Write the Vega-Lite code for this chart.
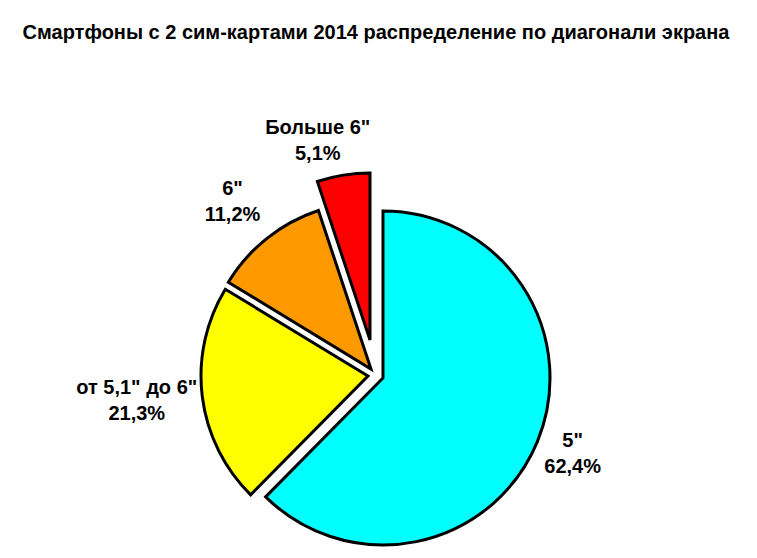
{
  "$schema": "https://vega.github.io/schema/vega-lite/v6.json",
  "width": 752,
  "height": 366,
  "autosize": {"type": "none"},
  "padding": {"left": 0, "top": 192, "right": 5, "bottom": 0},
  "background": "white",
  "title": {
    "text": "Смартфоны с 2 сим-картами 2014 распределение по диагонали экрана",
    "font": "Liberation Sans",
    "fontSize": 20,
    "fontWeight": "bold",
    "color": "black",
    "anchor": "middle",
    "offset": 75
  },
  "config": {
    "view": {"stroke": null},
    "locale": {"number": {"decimal": ",", "thousands": " ", "grouping": [3], "currency": ["", ""]}}
  },
  "data": {
    "values": [
      {"cat": "5\"", "share": 0.624},
      {"cat": "от 5,1\" до 6\"", "share": 0.213},
      {"cat": "6\"", "share": 0.112},
      {"cat": "Больше 6\"", "share": 0.051}
    ]
  },
  "encoding": {
    "theta": {"field": "share", "type": "quantitative", "stack": true},
    "order": {"field": "share", "type": "quantitative", "sort": "descending"},
    "color": {
      "field": "cat",
      "type": "nominal",
      "scale": {"domain": ["5\"", "от 5,1\" до 6\"", "6\"", "Больше 6\""], "range": ["#00FFFF", "#FFFF00", "#FF9900", "#FF0000"]},
      "legend": null
    }
  },
  "layer": [
    {"mark": {"type": "arc", "outerRadius": 167, "stroke": "black", "strokeWidth": 3, "xOffset": 7, "yOffset": 3},
     "encoding": {"opacity": {"condition": {"test": "datum.cat === '5\"'", "value": 1}, "value": 0}}},
    {"mark": {"type": "arc", "outerRadius": 167, "stroke": "black", "strokeWidth": 3, "xOffset": -8, "yOffset": 1},
     "encoding": {"opacity": {"condition": {"test": "datum.cat === 'от 5,1\" до 6\"'", "value": 1}, "value": 0}}},
    {"mark": {"type": "arc", "outerRadius": 167, "stroke": "black", "strokeWidth": 3, "xOffset": -5, "yOffset": -6},
     "encoding": {"opacity": {"condition": {"test": "datum.cat === '6\"'", "value": 1}, "value": 0}}},
    {"mark": {"type": "arc", "outerRadius": 167, "stroke": "black", "strokeWidth": 3, "xOffset": -6, "yOffset": -35},
     "encoding": {"opacity": {"condition": {"test": "datum.cat === 'Больше 6\"'", "value": 1}, "value": 0}}},

    {"mark": {"type": "text", "radius": 205, "xOffset": 7, "yOffset": 1, "dy": -13, "font": "Liberation Sans", "fontSize": 20, "fontWeight": "bold", "baseline": "middle", "align": "center"},
     "encoding": {"color": {"value": "black"}, "text": {"condition": {"test": "datum.cat === '5\"'", "field": "cat", "type": "nominal"}, "value": ""}}},
    {"mark": {"type": "text", "radius": 205, "xOffset": 7, "yOffset": 1, "dy": 13, "font": "Liberation Sans", "fontSize": 20, "fontWeight": "bold", "baseline": "middle", "align": "center"},
     "encoding": {"color": {"value": "black"}, "text": {"condition": {"test": "datum.cat === '5\"'", "field": "share", "type": "quantitative", "format": ".1%"}, "value": ""}}},

    {"mark": {"type": "text", "radius": 233, "xOffset": -8, "yOffset": -2, "dy": -13, "font": "Liberation Sans", "fontSize": 20, "fontWeight": "bold", "baseline": "middle", "align": "center"},
     "encoding": {"color": {"value": "black"}, "text": {"condition": {"test": "datum.cat === 'от 5,1\" до 6\"'", "field": "cat", "type": "nominal"}, "value": ""}}},
    {"mark": {"type": "text", "radius": 233, "xOffset": -8, "yOffset": -2, "dy": 13, "font": "Liberation Sans", "fontSize": 20, "fontWeight": "bold", "baseline": "middle", "align": "center"},
     "encoding": {"color": {"value": "black"}, "text": {"condition": {"test": "datum.cat === 'от 5,1\" до 6\"'", "field": "share", "type": "quantitative", "format": ".1%"}, "value": ""}}},

    {"mark": {"type": "text", "radius": 216, "xOffset": -9, "yOffset": -4, "dy": -13, "font": "Liberation Sans", "fontSize": 20, "fontWeight": "bold", "baseline": "middle", "align": "center"},
     "encoding": {"color": {"value": "black"}, "text": {"condition": {"test": "datum.cat === '6\"'", "field": "cat", "type": "nominal"}, "value": ""}}},
    {"mark": {"type": "text", "radius": 216, "xOffset": -9, "yOffset": -4, "dy": 13, "font": "Liberation Sans", "fontSize": 20, "fontWeight": "bold", "baseline": "middle", "align": "center"},
     "encoding": {"color": {"value": "black"}, "text": {"condition": {"test": "datum.cat === '6\"'", "field": "share", "type": "quantitative", "format": ".1%"}, "value": ""}}},

    {"mark": {"type": "text", "radius": 202, "xOffset": -26, "yOffset": -35, "dy": -13, "font": "Liberation Sans", "fontSize": 20, "fontWeight": "bold", "baseline": "middle", "align": "center"},
     "encoding": {"color": {"value": "black"}, "text": {"condition": {"test": "datum.cat === 'Больше 6\"'", "field": "cat", "type": "nominal"}, "value": ""}}},
    {"mark": {"type": "text", "radius": 202, "xOffset": -26, "yOffset": -35, "dy": 13, "font": "Liberation Sans", "fontSize": 20, "fontWeight": "bold", "baseline": "middle", "align": "center"},
     "encoding": {"color": {"value": "black"}, "text": {"condition": {"test": "datum.cat === 'Больше 6\"'", "field": "share", "type": "quantitative", "format": ".1%"}, "value": ""}}}
  ]
}
